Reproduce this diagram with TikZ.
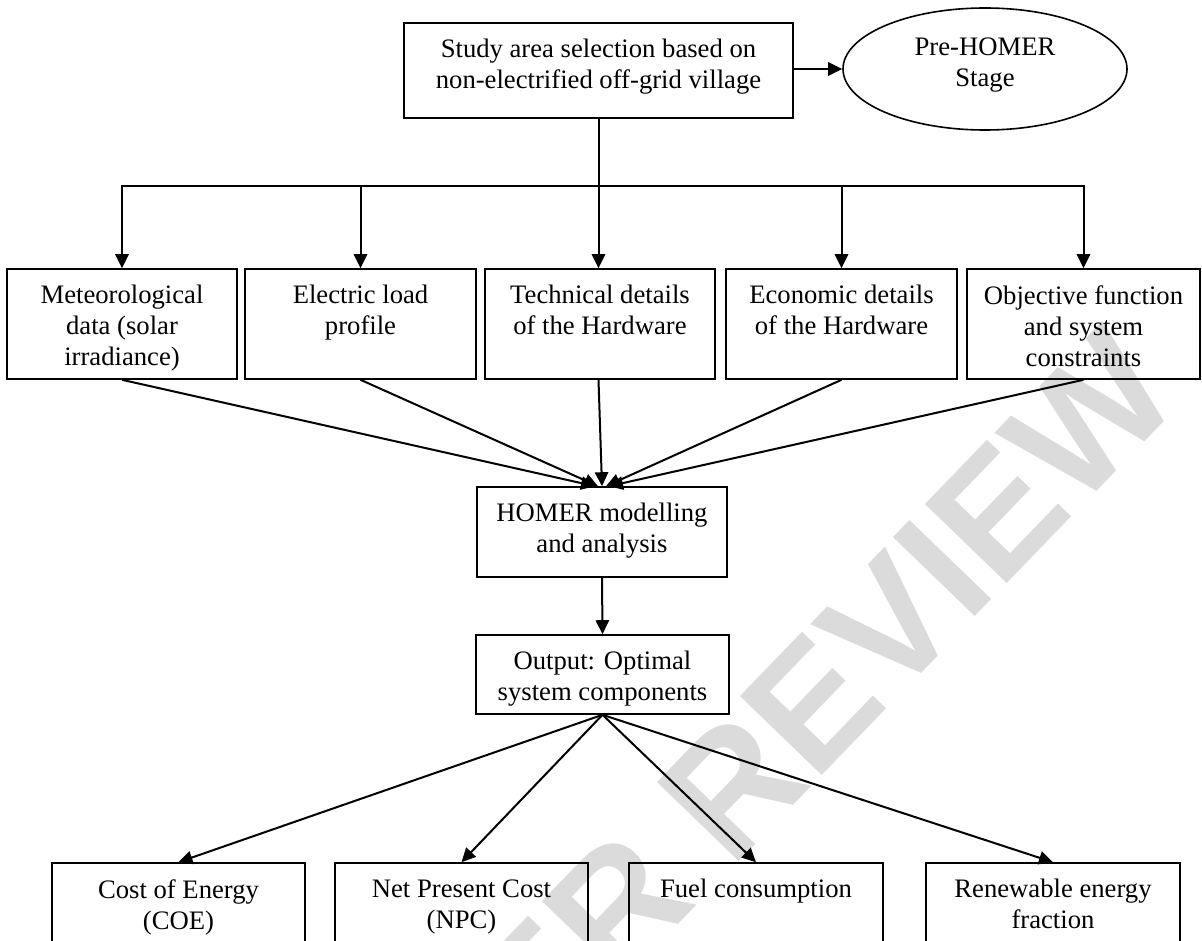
\documentclass[tikz,border=0pt]{standalone}
\usepackage{fontspec}
\setmainfont{Liberation Serif}
\newfontfamily\wmfont{Liberation Sans}
\usetikzlibrary{arrows.meta,fit,shapes.geometric}
\begin{document}
\begin{tikzpicture}[x=0.75pt,y=-0.75pt,
  box/.style={draw, line width=1.2pt, inner sep=0pt},
  txt/.style={font=\fontsize{20}{23.25}\selectfont, align=center, inner sep=0pt},
  ttop/.style={txt, anchor=north},
  arr/.style={line width=1.5pt, -{Triangle[length=10.5pt,width=10pt]}},
  ln/.style={line width=1.5pt},
  wm/.style={text=black!14, font=\wmfont\bfseries\fontsize{124}{124}\selectfont, inner sep=0pt}]
\clip (0,0) rectangle (1202,941);
\fill[white] (0,0) rectangle (1202,941);
% watermark
\node[wm, rotate=46, anchor=base east] (wmark) at (1185,400) {PEER REVIEW};

% top
\node[box, fit={(404,23) (793,118)}] (top) {};
\node[ttop] (toptxt) at ([yshift=-17*0.75pt]top.north) {Study area selection based on\\non-electrified off-grid village};
\node[draw, ellipse, line width=1.2pt, minimum width=284*0.75pt, minimum height=122*0.75pt, inner sep=0pt] (pre) at (985,69) {};
\node[txt] (pretxt) at (985,65) {Pre-HOMER\\Stage};
\draw[arr] (top.east |- pre.west) -- (pre.west);

% row of inputs
\node[box, fit={(7,269) (237,379)}] (b1) {};
\node[box, fit={(245,269) (476,379)}] (b2) {};
\node[box, fit={(485,269) (715,379)}] (b3) {};
\node[box, fit={(726,269) (957,379)}] (b4) {};
\node[box, fit={(967,269) (1200,379)}] (b5) {};
\node[ttop] (t1) at ([yshift=-17*0.75pt]b1.north) {Meteorological\\data (solar\\irradiance)};
\node[ttop] (t2) at ([yshift=-17*0.75pt]b2.north) {Electric load\\profile};
\node[ttop] (t3) at ([yshift=-17*0.75pt]b3.north) {Technical details\\of the Hardware};
\node[ttop] (t4) at ([yshift=-17*0.75pt]b4.north) {Economic details\\of the Hardware};
\node[ttop] (t5) at ([yshift=-17*0.75pt]b5.north) {Objective function\\and system\\constraints};

\coordinate (j) at (top.south |- 0,186);
\draw[ln] (top.south) -- (j);
\draw[arr] (j) -| (b1.north);
\draw[arr] (j) -| (b2.north);
\draw[arr] (j) -- (b3.north -| j);
\draw[arr] (j) -| (b4.north);
\draw[arr] (j) -| (b5.north);

% HOMER
\node[box, fit={(477,487) (727,577)}] (hom) {};
\node[ttop] (homtxt) at ([yshift=-17*0.75pt]hom.north) {HOMER modelling\\and analysis};
\draw[arr] (b1.south) -- ([xshift=-7*0.75pt]hom.north);
\draw[arr] (b2.south) -- ([xshift=-4*0.75pt]hom.north);
\draw[arr] (b3.south -| j) -- ([xshift=0pt]hom.north);
\draw[arr] (b4.south) -- ([xshift=4*0.75pt]hom.north);
\draw[arr] (b5.south) -- ([xshift=7*0.75pt]hom.north);

% output
\node[box, fit={(476,635) (729,714)}] (out) {};
\node[ttop] (outtxt) at ([yshift=-17*0.75pt]out.north) {Output: Optimal\\system components};
\draw[arr] (hom.south) -- (out.north);

% results
\node[box, fit={(52,863) (305,985)}] (c1) {};
\node[box, fit={(335,863) (588,985)}] (c2) {};
\node[box, fit={(629,863) (883,985)}] (c3) {};
\node[box, fit={(926,863) (1180,985)}] (c4) {};
\node[ttop] (s1) at ([yshift=-17*0.75pt]c1.north) {Cost of Energy\\(COE)};
\node[ttop] (s2) at ([yshift=-17*0.75pt]c2.north) {Net Present Cost\\(NPC)};
\node[ttop] (s3) at ([yshift=-17*0.75pt]c3.north) {Fuel consumption};
\node[ttop] (s4) at ([yshift=-17*0.75pt]c4.north) {Renewable energy\\fraction};
\draw[arr] (out.south) -- (c1.north);
\draw[arr] (out.south) -- (c2.north);
\draw[arr] (out.south) -- (c3.north);
\draw[arr] (out.south) -- (c4.north);
\end{tikzpicture}
\end{document}
